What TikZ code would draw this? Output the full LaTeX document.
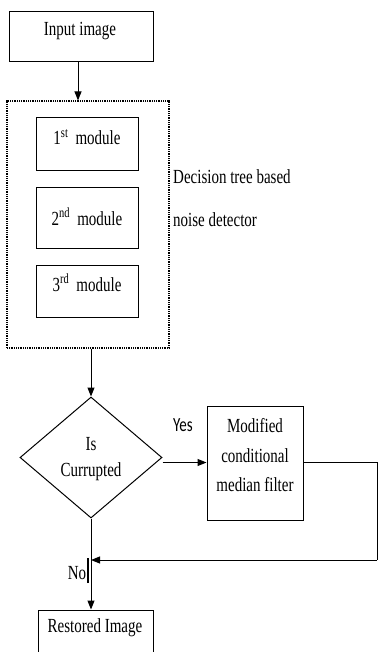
\documentclass[tikz,border=0pt]{standalone}
\usepackage{fontspec}
\setmainfont{Liberation Serif}[FakeStretch=0.75]
\newfontfamily\labelfont{Carlito}[FakeStretch=0.75]
\usetikzlibrary{arrows.meta,shapes.geometric}
\tikzset{
  box/.style={draw, line width=1pt, rectangle, inner sep=0pt},
  txt/.style={inner sep=0pt, font=\fontsize{20}{24}\selectfont},
  flow/.style={line width=1pt, -{Triangle[length=9pt,width=7pt]}},
  wire/.style={line width=1pt},
}
\begin{document}
\begin{tikzpicture}[x=1pt, y=-1pt]
\path[use as bounding box] (0,0) rectangle (378,652);
\clip (0,0) rectangle (378,652);

% input
\node[box, minimum width=144pt, minimum height=50pt] (input) at (81,37) {};
\node[txt] (inputtxt) at (80,31) {Input image};

% noise detector group
\node[draw, line width=1.1pt, dash pattern=on 1pt off 0.8pt, minimum width=162pt, minimum height=247pt, inner sep=0pt] (det) at (88,224.5) {};
\node[box, minimum width=102pt, minimum height=53pt] (m1) at (87,144.5) {};
\node[box, minimum width=102pt, minimum height=60pt] (m2) at (87,218) {};
\node[box, minimum width=102pt, minimum height=52pt] (m3) at (87,291) {};
\node[txt] (m1txt) at (87,137) {1\textsuperscript{st}\, module};
\node[txt] (m2txt) at (87,217) {2\textsuperscript{nd}\, module};
\node[txt] (m3txt) at (87,283) {3\textsuperscript{rd}\, module};
\node[txt, anchor=west] (dettxt1) at (173,177) {Decision tree based};
\node[txt, anchor=west] (dettxt2) at (173,220) {noise detector};

% decision
\node[draw, line width=1pt, diamond, minimum width=142pt, minimum height=121pt, inner sep=0pt] (dia) at (91,457.5) {};
\node[txt] (diatxt1) at (91,444) {Is};
\node[txt] (diatxt2) at (91,472) {Currupted};

% filter
\node[box, minimum width=96pt, minimum height=114pt] (filt) at (255,463) {};
\node[txt] (f1) at (255,426) {Modified};
\node[txt] (f2) at (255,456) {conditional};
\node[txt] (f3) at (255,485) {median filter};

% output
\node[box, minimum width=115pt, minimum height=90pt] (rest) at (95.5,655) {};
\node[txt] (resttxt) at (95,628) {Restored Image};

% loop-back corners
\coordinate (c1) at (377,462);
\coordinate (c2) at (377,560);

% branch labels
\node[inner sep=0pt, font=\labelfont\fontsize{20}{24}\selectfont] (yes) at (183,425) {Yes};
\node[txt] (no) at (77,573) {No};

% connectors
\draw[flow] ([xshift=-3pt]input.south) -- ([xshift=-3pt]input.south |- det.north);
\draw[flow] (dia.north |- det.south) -- (dia.north);
\draw[flow] ([yshift=-5pt]dia.east) -- ([yshift=-5pt]dia.east -| filt.west);
\draw[wire] (filt.east |- c1) -- (c1) -- (c2);
\draw[flow] (c2) -- (c2 -| dia.south);
\draw[flow] (dia.south) -- (dia.south |- rest.north);
\draw[line width=2.5pt] ([xshift=11pt,yshift=-10pt]no.center) -- ([xshift=11pt,yshift=15pt]no.center);
\end{tikzpicture}
\end{document}
